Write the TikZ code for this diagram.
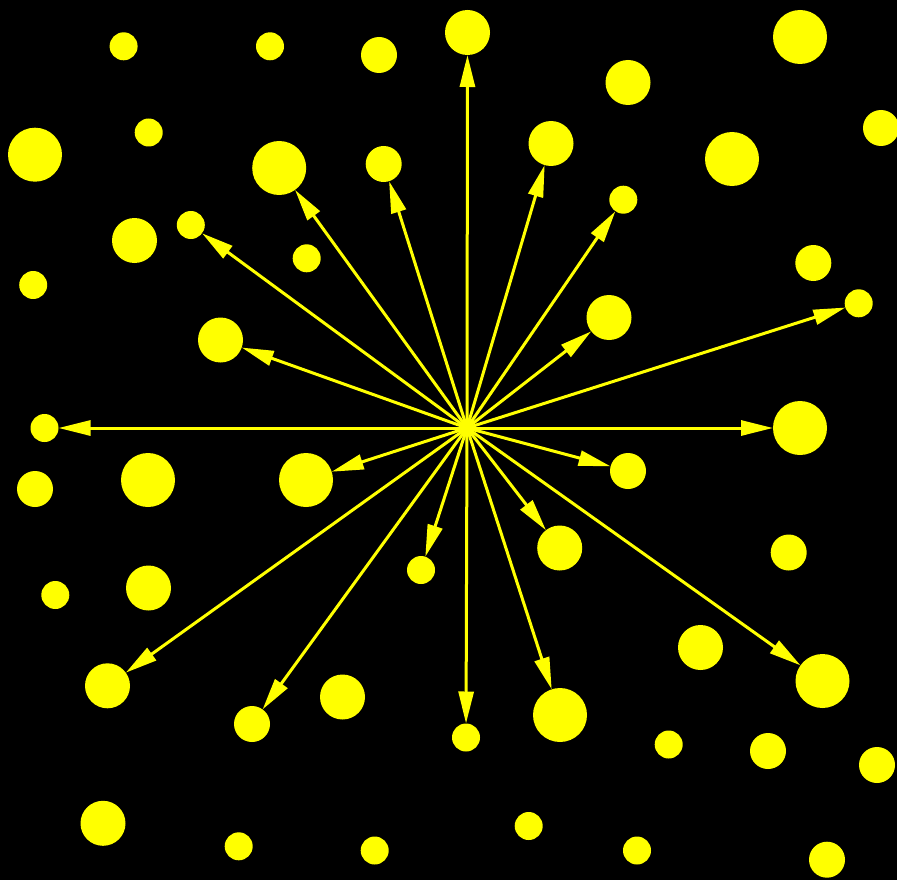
\documentclass[tikz,border=0pt]{standalone}
\usetikzlibrary{arrows.meta}
\definecolor{dotyellow}{RGB}{255,255,0}
\begin{document}
\begin{tikzpicture}[x=1pt,y=-1pt,
  dot/.style={circle,fill=dotyellow,draw=none,inner sep=0pt,outer sep=0pt},
  ds/.style={dot,minimum size=28pt},
  dm/.style={dot,minimum size=36pt},
  dl/.style={dot,minimum size=45pt},
  dx/.style={dot,minimum size=54pt},
  ray/.style={draw=dotyellow,line width=3pt,-{Triangle[length=32pt,width=15pt]}}]
\fill[black] (0,0) rectangle (897,880);
\useasboundingbox (0,0) rectangle (897,880);
\coordinate (c) at (467,428);
\node[ds] (a1) at (123.6,46.3) {};
\node[ds] (a2) at (270,46.3) {};
\node[dm] (a3) at (379,55) {};
\node[dl] (a4) at (467.5,32.5) {};
\node[dl] (a5) at (628,82.5) {};
\node[dx] (a6) at (800,37) {};
\node[dm] (a7) at (881,128) {};
\node[dx] (a8) at (35,154.7) {};
\node[ds] (a9) at (148.7,132.5) {};
\node[dx] (a10) at (279.2,168) {};
\node[dm] (a11) at (383.7,164) {};
\node[dl] (a12) at (551,143.5) {};
\node[dx] (a13) at (732,159) {};
\node[ds] (a14) at (190.8,225) {};
\node[dl] (a15) at (134.5,240.5) {};
\node[ds] (a16) at (306.7,258.3) {};
\node[ds] (a17) at (623.3,199.7) {};
\node[dm] (a18) at (813.3,263) {};
\node[ds] (a19) at (33.2,285) {};
\node[dl] (a20) at (220.5,340) {};
\node[dl] (a21) at (609,317.5) {};
\node[ds] (a22) at (858.7,303.3) {};
\node[ds] (a23) at (44.5,428) {};
\node[dx] (a24) at (800,428) {};
\node[dm] (a25) at (35,489) {};
\node[dx] (a26) at (148,480) {};
\node[dx] (a27) at (306,480) {};
\node[dm] (a28) at (628,471) {};
\node[dl] (a29) at (559.7,548) {};
\node[dm] (a30) at (788.7,552.5) {};
\node[ds] (a31) at (421,570) {};
\node[ds] (a32) at (55.3,595) {};
\node[dl] (a33) at (148.5,588) {};
\node[dl] (a34) at (700.5,647.5) {};
\node[dl] (a35) at (107.5,685.8) {};
\node[dl] (a36) at (342.5,697) {};
\node[dm] (a37) at (252,724) {};
\node[dx] (a38) at (560,715) {};
\node[dx] (a39) at (822.5,681) {};
\node[ds] (a40) at (466,737.5) {};
\node[ds] (a41) at (668.7,744.5) {};
\node[dm] (a42) at (768,751) {};
\node[dm] (a43) at (877,765) {};
\node[dl] (a44) at (103,823.3) {};
\node[ds] (a45) at (238.7,846.3) {};
\node[ds] (a46) at (374.7,850.5) {};
\node[ds] (a47) at (528.7,826) {};
\node[ds] (a48) at (637,850.5) {};
\node[dm] (a49) at (827,859.7) {};
\foreach \t in {a4,a10,a11,a12,a14,a17,a20,a21,a22,a23,a24,a27,a28,a29,a31,a35,a37,a38,a39,a40}
  \draw[ray] (c) -- (\t);
\end{tikzpicture}
\end{document}
